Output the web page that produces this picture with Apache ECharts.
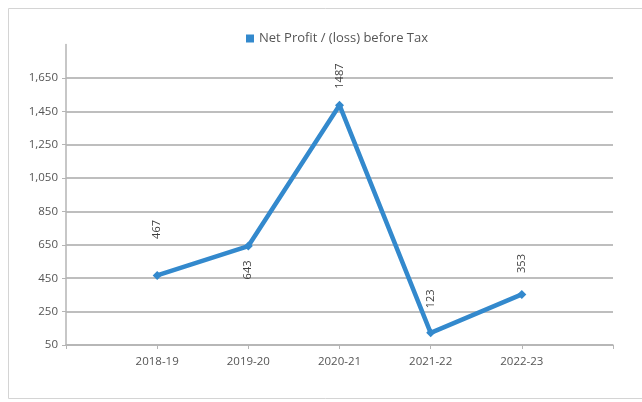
<!DOCTYPE html>
<html>
<head>
<meta charset="utf-8">
<script src="https://cdn.jsdelivr.net/npm/echarts@6/dist/echarts.min.js"></script>
<style>
  html, body { margin: 0; padding: 0; background: #fff; }
  #chart { width: 642px; height: 402px; }
</style>
</head>
<body>
<div id="chart"></div>
<script>
// Net profit / (loss) before tax by financial year
const seriesName = 'Net Profit / (loss) before Tax';
const years = ['2018-19', '2019-20', '2020-21', '2021-22', '2022-23'];
const profit = [467, 643, 1487, 123, 353];

// y-axis scale
const yMin = 50;
const yMax = 1850;
const yStep = 200;

// where each value label sits relative to its point
const labelSide = ['top', 'bottom', 'top', 'top', 'top'];
const labelGap = [32, 10, 12, 20, 17];

const font = '"Open Sans", "Liberation Sans", sans-serif';
const lineBlue = '#3389cd';

// pad the category axis with an empty slot at each end
const axisCats = [''].concat(years, ['']);
const seriesData = [null].concat(profit.map((v, i) => ({
  value: v,
  label: {
    position: labelSide[i],
    distance: labelGap[i],
    align: labelSide[i] === 'top' ? 'left' : 'right',
    verticalAlign: 'middle'
  }
})), [null]);

// grid lines: hide the one at the axis max
const nLines = Math.round((yMax - yMin) / yStep) + 1;
const gridColors = [];
for (let i = 0; i < nLines; i++) gridColors.push(i === nLines - 1 ? 'rgba(0,0,0,0)' : '#a9a9a9');

const chart = echarts.init(document.getElementById('chart'), null, { renderer: 'canvas' });
chart.setOption({
  animation: false,
  backgroundColor: '#ffffff',
  graphic: [{
    type: 'rect',
    shape: { x: 8.5, y: 8.5, width: 660, height: 390 },
    style: { fill: 'none', stroke: '#d4d4d4', lineWidth: 1 },
    silent: true
  }],
  legend: {
    top: 27,
    left: 241,
    itemWidth: 8,
    itemHeight: 8,
    itemGap: 10,
    icon: 'rect',
    textStyle: { fontFamily: font, fontSize: 13, color: '#555555' },
    data: [seriesName]
  },
  grid: { left: 66, right: 29, top: 44.6, bottom: 57, containLabel: false },
  xAxis: {
    type: 'category',
    data: axisCats,
    boundaryGap: false,
    axisLine: { lineStyle: { color: '#b5b5b5', width: 1.5 } },
    axisTick: { show: true, length: 4, lineStyle: { color: '#b5b5b5' } },
    axisLabel: { fontFamily: font, fontSize: 11.5, color: '#555555', margin: 11 },
    splitLine: { show: false }
  },
  yAxis: {
    type: 'value',
    min: yMin,
    max: yMax,
    interval: yStep,
    axisLine: { show: true, lineStyle: { color: '#b5b5b5', width: 1.5 } },
    axisTick: { show: true, length: 4, lineStyle: { color: '#b5b5b5' } },
    axisLabel: {
      fontFamily: font, fontSize: 11.5, color: '#555555', margin: 8,
      showMaxLabel: false,
      formatter: v => v.toLocaleString('en-US')
    },
    splitLine: { show: true, lineStyle: { color: gridColors, width: 1.5 } }
  },
  series: [{
    name: seriesName,
    type: 'line',
    data: seriesData,
    connectNulls: false,
    color: lineBlue,
    lineStyle: { color: lineBlue, width: 4.5 },
    symbol: 'diamond',
    symbolSize: 9,
    itemStyle: { color: lineBlue },
    label: {
      show: true,
      rotate: 90,
      fontFamily: font,
      fontSize: 11,
      color: '#404040'
    }
  }]
});
</script>
</body>
</html>
